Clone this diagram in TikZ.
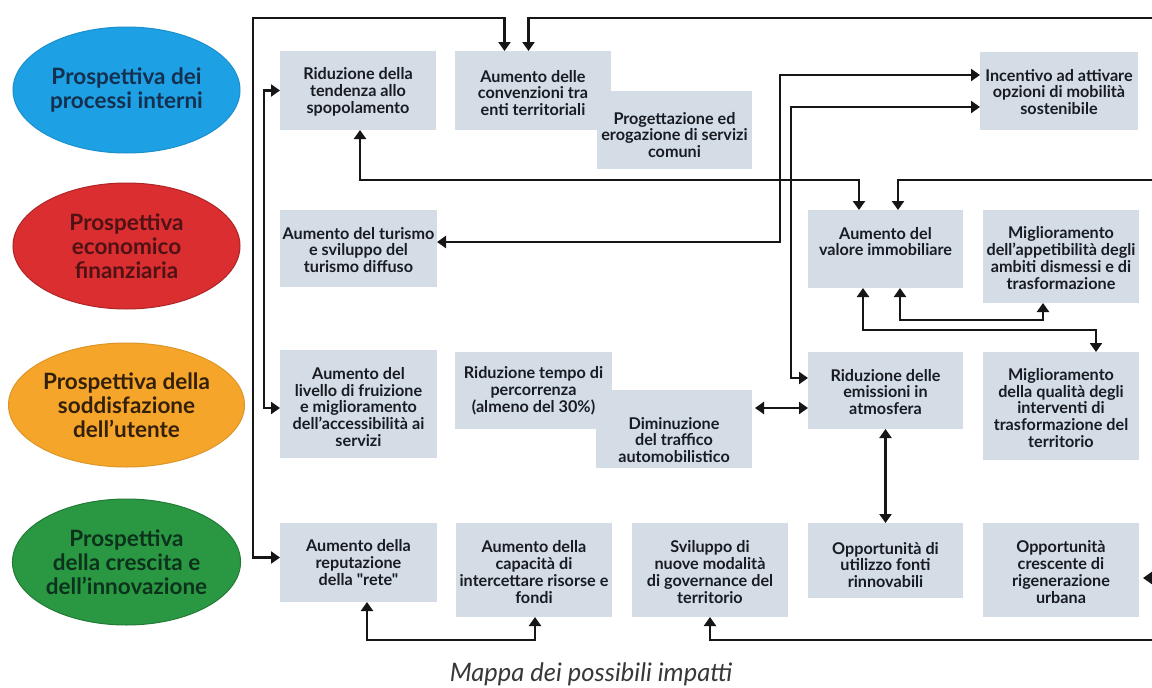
\documentclass[tikz,border=0pt]{standalone}
\usepackage{fontspec}
\setmainfont{Lato}
\newfontfamily\rawlato{Lato}
\usetikzlibrary{shapes.geometric,arrows.meta}
\definecolor{boxfill}{RGB}{212,221,229}
\definecolor{boxtxt}{RGB}{24,28,34}
\definecolor{linecol}{RGB}{22,22,22}
\definecolor{pblue}{RGB}{30,160,228}
\definecolor{pred}{RGB}{218,46,48}
\definecolor{porange}{RGB}{245,166,42}
\definecolor{pgreen}{RGB}{42,152,66}
\definecolor{tblue}{RGB}{20,48,78}
\definecolor{tred}{RGB}{80,18,20}
\definecolor{torange}{RGB}{52,32,10}
\definecolor{tgreen}{RGB}{12,50,28}
\newcommand{\impbox}[5]{%
  \node[box, minimum width={(#4-#2)*1pt}, minimum height={(#5-#3)*1pt}] (#1) at ({(#2+#4)/2},{(#3+#5)/2}) {};}
\newcommand{\imptext}[3]{%
  \node[boxtext] (#1t) at ([yshift={-(#2)*1pt}]#1.center) {#3};}
\begin{document}
\begin{tikzpicture}[x=1pt,y=-1pt,
  box/.style={rectangle, fill=boxfill, draw=none, inner sep=0pt, outer sep=0pt},
  boxtext/.style={align=center, text=boxtxt, inner sep=0pt, font=\bfseries\fontsize{16.2}{16.8}\selectfont},
  persp/.style={ellipse, minimum width=227pt, minimum height=126pt, inner sep=0pt, align=center, line width=1pt, font=\bfseries\fontsize{22.5}{23.8}\selectfont},
  conn/.style={line width=2.6pt, draw=linecol, line join=miter, -{Triangle[length=9pt,width=12pt]}},
  dconn/.style={line width=2.6pt, draw=linecol, line join=miter, {Triangle[length=9pt,width=12pt]}-{Triangle[length=9pt,width=12pt]}}
]
\fill[white] (0,0) rectangle (1152,688);
\useasboundingbox (0,0) rectangle (1152,688);

% perspectives
\node[persp, fill=pblue, draw=pblue!90!black, text=tblue] (p1) at (126.5,90) {Prospettiva dei\\processi interni};
\node[persp, fill=pred, draw=pred!80!black, text=tred] (p2) at (126.5,246) {Prospettiva\\economico\\finanziaria};
\node[persp, fill=porange, draw=porange!90!black, text=torange, minimum height=124pt] (p3) at (126.5,405) {Prospettiva della\\soddisfazione\\dell'utente};
\node[persp, fill=pgreen, draw=pgreen!80!black, text=tgreen] (p4) at (126.5,562) {Prospettiva\\della crescita e\\dell'innovazione};

% boxes
\impbox{b1}{280}{51}{436}{130}
\impbox{b2}{455}{51}{611}{130}
\impbox{b3}{597}{91}{752}{169}
\impbox{b4}{980}{52}{1138}{130}
\impbox{b5}{280}{210}{437}{287}
\impbox{b6}{808}{210}{963}{288}
\impbox{b7}{983}{210}{1139}{303}
\impbox{b8}{280}{350}{437}{458}
\impbox{b9}{455}{352}{612}{429}
\impbox{b10}{596}{390}{752}{468}
\impbox{b11}{808}{352}{963}{429}
\impbox{b12}{983}{352}{1139}{460}
\impbox{b13}{280}{523}{437}{602}
\impbox{b14}{456}{523}{612}{617}
\impbox{b15}{632}{523}{788}{617}
\impbox{b16}{808}{523}{963}{598}
\impbox{b17}{983}{523}{1139}{617}

% texts
\imptext{b1}{1.5}{Riduzione della\\tendenza allo\\spopolamento}
\imptext{b2}{2.5}{Aumento delle\\convenzioni tra\\enti territoriali}
\imptext{b3}{5}{Progettazione ed\\erogazione di servizi\\comuni}
\imptext{b4}{1}{Incentivo ad attivare\\opzioni di mobilità\\sostenibile}
\imptext{b5}{1.5}{Aumento del turismo\\e sviluppo del\\turismo diffuso}
\imptext{b6}{-7.5}{Aumento del\\valore immobiliare}
\imptext{b7}{1.5}{Miglioramento\\dell'appetibilità degli\\ambiti dismessi e di\\trasformazione}
\imptext{b8}{3}{Aumento del\\livello di fruizione\\e miglioramento\\dell'accessibilità ai\\servizi}
\imptext{b9}{0}{Riduzione tempo di\\percorrenza\\(almeno del 30\%)}
\imptext{b10}{11}{Diminuzione\\del traffico\\automobilistico}
\imptext{b11}{1.5}{Riduzione delle\\emissioni in\\atmosfera}
\imptext{b12}{2}{Miglioramento\\della qualità degli\\interventi di\\trasformazione del\\territorio}
\imptext{b13}{0}{Aumento della\\reputazione\\{\rawlato\bfseries della "rete"}}
\imptext{b14}{2}{Aumento della\\capacità di\\intercettare risorse e\\fondi}
\imptext{b15}{2}{Sviluppo di\\nuove modalità\\di governance del\\territorio}
\imptext{b16}{4.5}{Opportunità di\\utilizzo fonti\\rinnovabili}
\imptext{b17}{2}{Opportunità\\crescente di\\rigenerazione\\urbana}

% free ends at the right edge
\coordinate (eTop) at (1152,18);
\coordinate (eMid) at (1152,180);
\coordinate (eR) at (1152,578);
\coordinate (eBot) at (1152,640);

% connectors
\draw[dconn] ([yshift=5pt]b13.west) -| (253,18) -| ([xshift=-28.5pt]b2.north);
\draw[dconn] (b1.west) -- ++(-16,0) |- ([yshift=-4pt]b8.west);
\draw[conn] (eTop) -| ([xshift=-4.5pt]b2.north);
\draw[dconn] ([xshift=2pt]b1.south) -- ++(0,50) -| ([xshift=-26.5pt]b6.north);
\draw[conn] (eMid) -| ([xshift=12.5pt]b6.north);
\draw[dconn] ([yshift=16pt]b4.west) -| (780,160) |- ([yshift=6.5pt]b5.east);
\draw[dconn] ([yshift=-16pt]b4.west) -| (791,250) |- ([yshift=12.5pt]b11.west);
\draw[dconn] ([xshift=14.5pt]b6.south) -- ++(0,32) -| ([xshift=-18pt]b7.south);
\draw[dconn] ([xshift=-22.5pt]b6.south) -- ++(0,42) -| ([xshift=35pt]b12.north);
\draw[dconn] ([yshift=21pt,xshift=3pt]b10.east) -- ([yshift=-17.5pt]b11.west);
\draw[dconn] (b11.south) -- (b16.north);
\draw[dconn] ([xshift=8.5pt]b13.south) -- ++(0,38) -| ([xshift=1pt]b14.south);
\draw[conn] (eBot) -| (b15.south);
\draw[conn, shorten >=4pt] (eR) -- ([yshift=-8pt]b17.east);

% caption
\node[font=\itshape\fontsize{25.5}{28}\selectfont, text=black!78, anchor=base, inner sep=0pt] (cap) at (591,681) {Mappa dei possibili impatti};
\end{tikzpicture}
\end{document}
